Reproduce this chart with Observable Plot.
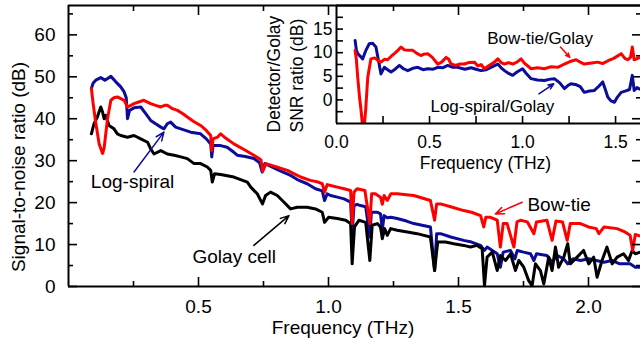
<!DOCTYPE html>
<html><head><meta charset="utf-8">
<script src="https://cdn.jsdelivr.net/npm/d3@7"></script>
<script src="https://cdn.jsdelivr.net/npm/@observablehq/plot@0.6"></script>
<style>
html,body{margin:0;padding:0;background:#fff;}
#chart{position:relative;width:640px;height:345px;overflow:hidden;background:#fff;}
#chart svg{position:absolute;top:0;}
</style></head><body><div id="chart"></div>
<script>
// ---- Main chart data (frequency in THz, SNR in dB) ----
const golayFreq = [0.088,0.098,0.111,0.124,0.131,0.137,0.143,0.156,0.175,0.188,0.201,0.227,0.252,0.278,0.304,0.316,0.329,0.355,0.38,0.406,0.432,0.457,0.483,0.508,0.534,0.547,0.553,0.562,0.585,0.636,0.688,0.701,0.726,0.746,0.758,0.777,0.803,0.829,0.854,0.88,0.918,0.95,0.976,0.985,1.0,1.034,1.066,1.085,1.091,1.1,1.117,1.143,1.159,1.168,1.188,1.2,1.207,1.216,1.226,1.239,1.264,1.303,1.341,1.367,1.392,1.408,1.42,1.45,1.482,1.52,1.546,1.572,1.591,1.6,1.61,1.63,1.649,1.661,1.681,1.7,1.719,1.732,1.751,1.77,1.783,1.796,1.815,1.828,1.847,1.86,1.873,1.885,1.905,1.92,1.93,1.956,1.981,2.001,2.02,2.033,2.052,2.071,2.091,2.11,2.135,2.154,2.168,2.18,2.2];
const golaySNR = [36.4,38.8,40.4,42.8,41.6,40,40.8,38.4,37.6,36.4,36,35.6,36,35.2,34.4,32.8,31.6,32.4,31.6,31.3,30.9,30.5,29.3,29.3,28.5,27.7,24.9,26.9,26.7,26.1,24.9,23.7,22.1,19.7,21.7,22.5,21.7,20.1,18.5,18.9,18.9,18.5,17.7,15.3,16.5,16.2,15.8,15,5.4,14.2,15.8,15.3,6.2,14.6,15,14.2,11.4,13.8,12.2,13.8,13.4,13,12.6,12.2,11.8,3.8,10.6,10.6,10.2,9.8,9.4,9.8,9,0.2,7,8.2,3.8,7.4,6.2,7.8,3.8,6.2,4.6,1.4,0.2,5.4,3.8,0.6,7,3.8,9.4,4.6,7,10.2,5.4,7,8.6,5.4,7,2.2,6.2,9.4,5.4,7,7.8,6.2,8.6,7.8,8.2];

const logFreq = [0.088,0.095,0.105,0.124,0.14,0.163,0.182,0.201,0.214,0.222,0.227,0.235,0.252,0.278,0.297,0.316,0.335,0.355,0.367,0.38,0.393,0.412,0.432,0.47,0.508,0.53,0.547,0.551,0.556,0.585,0.61,0.636,0.649,0.68,0.713,0.735,0.745,0.755,0.77,0.81,0.854,0.88,0.918,0.95,0.976,0.985,0.995,1.008,1.034,1.06,1.085,1.091,1.098,1.11,1.123,1.143,1.159,1.165,1.188,1.2,1.207,1.214,1.226,1.24,1.264,1.3,1.328,1.36,1.392,1.408,1.416,1.431,1.47,1.52,1.55,1.585,1.6,1.61,1.63,1.649,1.661,1.672,1.7,1.717,1.726,1.75,1.777,1.79,1.8,1.84,1.86,1.88,1.905,1.92,1.94,1.97,2.0,2.03,2.06,2.09,2.12,2.16,2.18,2.2];
const logSNR = [47.2,48.5,49.2,49.8,49.2,50.1,48.8,47.6,46.4,45,40,42,42.6,42.8,41.2,39.6,38.8,38,37.6,38.8,39.2,38,37.6,36.8,36.4,35.2,34,30.9,33.6,33.6,33.2,32,31.3,31,30.5,29.5,27.3,29.3,28.9,27.7,26.5,25.5,24.5,23.3,22.8,20.5,22.1,21.7,21.3,20.9,20.1,12.6,19.3,19.6,19.3,19,11.8,17.7,17.7,17.3,13.6,16.9,16.4,16.5,16.2,15.6,15,14.6,14.2,3.8,12.6,12.6,11.8,11,10.6,9.8,8.6,9.4,8.6,7.8,4.6,8.2,8.6,6.6,8.6,8.2,7.8,6.2,7.8,7.4,5.8,7.4,6.6,5.4,6.6,6.2,6.6,6.2,5.8,6.2,5.4,5.4,4.6,4.6];

const bowFreq = [0.088,0.095,0.105,0.118,0.131,0.137,0.15,0.163,0.175,0.188,0.201,0.214,0.227,0.24,0.252,0.27,0.29,0.316,0.335,0.355,0.37,0.38,0.4,0.419,0.44,0.457,0.48,0.508,0.53,0.547,0.551,0.556,0.573,0.585,0.6,0.636,0.68,0.713,0.74,0.747,0.76,0.8,0.842,0.893,0.93,0.96,0.976,0.985,0.995,1.008,1.034,1.06,1.085,1.091,1.098,1.11,1.14,1.159,1.166,1.18,1.2,1.207,1.214,1.226,1.24,1.264,1.3,1.328,1.36,1.392,1.408,1.416,1.431,1.47,1.52,1.55,1.585,1.597,1.605,1.623,1.649,1.661,1.672,1.687,1.713,1.725,1.738,1.765,1.79,1.8,1.84,1.86,1.875,1.9,1.918,1.93,1.969,2.0,2.03,2.04,2.06,2.11,2.14,2.16,2.17,2.18,2.2];
const bowSNR = [47.2,43.5,39,34,31.7,33,40,44.4,45,45.2,44.8,44.4,42.8,43.2,43.6,44,44.4,43.6,43.2,42.8,43.2,43.2,42.4,42,41.2,40.4,39.4,38.4,37.2,36,32.4,35.2,35.6,36.4,35.6,34,32.5,31.3,30.2,27.5,29.3,28.5,27.7,26.1,25.3,24.9,24.5,22.5,24.3,24.1,23.7,23.3,22.9,15,22.5,23.3,22.9,15,22.1,22.1,21.3,19.6,21.7,20.5,22.1,22.1,21.9,21.7,21.1,20.5,15.8,19.7,19.7,19,18.1,17.7,16.9,14.2,16.5,16.5,15.8,9.4,15,15,9.4,15.4,15.8,15.4,12.6,15.4,15.8,11,15.6,15.4,11,15,15,14.2,13.8,12.6,14.2,13.8,13,12.2,8.6,12.4,12];

// ---- Inset data (detector / Golay SNR ratio, dB) ----
const insetLogFreq = [0.1,0.107,0.114,0.141,0.158,0.176,0.194,0.212,0.225,0.239,0.257,0.275,0.293,0.315,0.338,0.36,0.383,0.41,0.437,0.465,0.49,0.52,0.544,0.57,0.598,0.625,0.652,0.69,0.724,0.75,0.777,0.805,0.83,0.867,0.885,0.903,0.925,0.947,0.97,1.0,1.02,1.046,1.08,1.117,1.15,1.171,1.2,1.225,1.245,1.26,1.29,1.31,1.332,1.36,1.386,1.41,1.431,1.445,1.458,1.475,1.494,1.51,1.53,1.555,1.575,1.59,1.6,1.615,1.63,1.66,1.7];
const insetLogRatio = [12.6,10.5,9.8,8.7,10.5,11.9,12,11.2,8.5,5.5,6.9,6.4,5.9,6.5,7.3,6.6,6.2,6.7,6.9,6.4,6.6,6.5,6.9,6.8,7.3,6.9,6.9,6.5,6.8,6.5,6.2,6.4,6.9,7.6,6.8,6.2,5.6,5.2,5.9,6.6,5.6,4.5,4.2,4.1,4.4,4.5,3.6,2.4,3.1,3.4,3.2,2.8,1.6,1.9,2,2.9,3.8,2.2,0.6,-0.2,-0.5,0.6,1.6,1.9,2.2,5.2,2,2.6,2.3,2,2.2];
const insetBowFreq = [0.1,0.107,0.114,0.124,0.132,0.14,0.148,0.157,0.168,0.185,0.205,0.225,0.239,0.257,0.275,0.293,0.311,0.33,0.347,0.365,0.383,0.41,0.43,0.454,0.47,0.49,0.515,0.544,0.565,0.589,0.603,0.616,0.64,0.665,0.687,0.71,0.741,0.76,0.777,0.795,0.82,0.849,0.867,0.885,0.903,0.925,0.947,0.97,0.992,1.01,1.046,1.08,1.117,1.15,1.189,1.225,1.26,1.288,1.31,1.332,1.37,1.404,1.43,1.46,1.49,1.53,1.55,1.565,1.58,1.59,1.6,1.63,1.66,1.7];
const insetBowRatio = [10.5,8.5,4.8,0.5,-2.2,-5.5,-6,-2,4.8,8.7,8.9,8.3,8,8.6,8.5,9.2,9.8,10.5,11.2,10.6,10.5,10.5,9.9,9.4,9.7,9.8,9,7.6,8,9,8.6,7.6,7.3,7.6,7.6,7.9,8,7.2,7.5,6.6,7.3,8,8.7,7.9,7.6,7.9,7.6,8,8.7,7.8,6.6,6.8,6.6,7,6.9,7.6,8.2,8.5,8,7.6,7.8,8,7.7,8.3,8.8,9.8,8.8,8.5,9,11.2,8.5,9,8.7,9.2];

// ---- Axis domains and ticks ----
const mainXDomain = [0, 2.2];
const mainYDomain = [0, 67];
const mainXMajor = [0.5, 1.0, 1.5, 2.0];
const mainXMinor = [0.25, 0.75, 1.25, 1.75];
const mainYMajor = [0, 10, 20, 30, 40, 50, 60];
const mainYMinor = [5, 15, 25, 35, 45, 55, 65];
const insetXDomain = [0, 1.72];
const insetYDomain = [-5, 20];
const insetXLabels = [0, 0.5, 1.0, 1.5];
const insetXTicks = [0.25, 0.5, 0.75, 1.0, 1.25, 1.5];
const insetYLabels = [0, 5, 10, 15];
const insetYTicks = [-2.5, 0, 2.5, 5, 7.5, 10, 12.5, 15, 17.5];

// ---- Titles and annotations (data coordinates) ----
const mainYTitle = [{v: 28.5, text: "Signal-to-noise ratio (dB)"}];
const insetYTitle = [
  {v: -6.9, text: "Detector/Golay", shift: -57},
  {v: -6.9, text: "SNR ratio (dB)", shift: -34}
];
const mainLabels = [
  {f: 0.086, v: 23.4, text: "Log-spiral"},
  {f: 0.477, v: 5.6, text: "Golay cell"},
  {f: 1.765, v: 17.9, text: "Bow-tie"}
];
const mainArrows = [
  {f1: 0.252, v1: 27.3, f2: 0.367, v2: 36.8, c: "log"},
  {f1: 0.713, v1: 9.8, f2: 0.848, v2: 16.9, c: "golay"},
  {f1: 1.745, v1: 20.1, f2: 1.642, v2: 17.3, c: "bow"}
];
const insetLabels = [
  {f: 0.81, v: 11.9, text: "Bow-tie/Golay"},
  {f: 0.505, v: -2.6, text: "Log-spiral/Golay"}
];
const insetArrows = [
  {f1: 1.204, v1: 11.2, f2: 1.254, v2: 9.0, c: "bow"},
  {f1: 1.088, v1: 1.3, f2: 1.168, v2: 3.4, c: "log"}
];

const FONT = "'Liberation Sans', Arial, Helvetica, sans-serif";
const COLORS = {bow: "#ff0000", log: "#0c0c9a", golay: "#000000"};
const rows = (fs, vs) => fs.map((f, i) => ({f, v: vs[i]}));
const noText = () => "";

const main = Plot.plot({
  width: 640, height: 345,
  marginLeft: 68, marginRight: 0, marginTop: 5, marginBottom: 59,
  x: {domain: mainXDomain},
  y: {domain: mainYDomain},
  style: {fontFamily: FONT, fontSize: "19px", background: "transparent", color: "#000"},
  marks: [
    Plot.line(rows(logFreq, logSNR), {x: "f", y: "v", stroke: COLORS.log, strokeWidth: 3}),
    Plot.line(rows(golayFreq, golaySNR), {x: "f", y: "v", stroke: COLORS.golay, strokeWidth: 3}),
    Plot.line(rows(bowFreq, bowSNR), {x: "f", y: "v", stroke: COLORS.bow, strokeWidth: 3}),
    Plot.ruleX([mainXDomain[0]], {strokeWidth: 2}),
    Plot.ruleY([mainYDomain[0]], {strokeWidth: 2}),
    Plot.ruleY([mainYDomain[1]], {strokeWidth: 2}),
    Plot.axisX(mainXMajor, {anchor: "bottom", tickSize: 0, tickPadding: 13, tickFormat: d3.format(".1f"), label: null}),
    Plot.axisX(mainXMajor, {anchor: "bottom", tickSize: -9, tickFormat: noText, label: null, strokeWidth: 1.6}),
    Plot.axisX(mainXMinor, {anchor: "bottom", tickSize: -5, tickFormat: noText, label: null, strokeWidth: 1.6}),
    Plot.axisX(mainXMajor, {anchor: "top", tickSize: -9, tickFormat: noText, label: null, strokeWidth: 1.6}),
    Plot.axisX(mainXMinor, {anchor: "top", tickSize: -5, tickFormat: noText, label: null, strokeWidth: 1.6}),
    Plot.axisY(mainYMajor, {anchor: "left", tickSize: 0, tickPadding: 13, label: null}),
    Plot.axisY(mainYMajor, {anchor: "left", tickSize: -9, tickFormat: noText, label: null, strokeWidth: 1.6}),
    Plot.axisY(mainYMinor, {anchor: "left", tickSize: -5, tickFormat: noText, label: null, strokeWidth: 1.6}),
    Plot.axisY(mainYMajor, {anchor: "right", tickSize: -9, tickFormat: noText, label: null, strokeWidth: 1.6}),
    Plot.axisY(mainYMinor, {anchor: "right", tickSize: -5, tickFormat: noText, label: null, strokeWidth: 1.6}),
    Plot.text(["Frequency (THz)"], {frameAnchor: "bottom", lineAnchor: "bottom", dx: -11.5, dy: 47, fontSize: 19}),
    Plot.text(mainYTitle, {y: "v", text: "text", frameAnchor: "left", rotate: -90, lineAnchor: "bottom", textAnchor: "middle", dx: -44, fontSize: 19}),
    Plot.arrow(mainArrows, {x1: "f1", y1: "v1", x2: "f2", y2: "v2", stroke: d => COLORS[d.c], strokeWidth: 1.5, headLength: 9, headAngle: 45}),
    Plot.text(mainLabels, {x: "f", y: "v", text: "text", textAnchor: "start", lineAnchor: "bottom", fontSize: 19, fill: "#000"})
  ]
});

const inset = Plot.plot({
  width: 400, height: 175,
  marginLeft: 80, marginRight: 0, marginTop: 5, marginBottom: 52,
  x: {domain: insetXDomain},
  y: {domain: insetYDomain},
  style: {fontFamily: FONT, fontSize: "17.5px", background: "transparent", color: "#000"},
  marks: [
    Plot.line(rows(insetLogFreq, insetLogRatio), {x: "f", y: "v", stroke: COLORS.log, strokeWidth: 3, clip: true}),
    Plot.line(rows(insetBowFreq, insetBowRatio), {x: "f", y: "v", stroke: COLORS.bow, strokeWidth: 3, clip: true}),
    Plot.ruleX([insetXDomain[0]], {strokeWidth: 2}),
    Plot.ruleY([insetYDomain[0]], {strokeWidth: 2}),
    Plot.ruleY([insetYDomain[1]], {strokeWidth: 2}),
    Plot.axisX(insetXLabels, {anchor: "bottom", tickSize: 0, tickPadding: 12.5, tickFormat: d3.format(".1f"), label: null}),
    Plot.axisX(insetXTicks, {anchor: "bottom", tickSize: -7, tickFormat: noText, label: null, strokeWidth: 1.6}),
    Plot.axisY(insetYLabels, {anchor: "left", tickSize: 0, tickPadding: 4, label: null}),
    Plot.axisY(insetYTicks, {anchor: "left", tickSize: -7, tickFormat: noText, label: null, strokeWidth: 1.6}),
    Plot.text(["Frequency (THz)"], {frameAnchor: "bottom", lineAnchor: "bottom", dx: -11, dy: 45, fontSize: 17.5}),
    Plot.text(insetYTitle.slice(0, 1), {y: "v", text: "text", frameAnchor: "left", rotate: -90, lineAnchor: "bottom", textAnchor: "start", dx: insetYTitle[0].shift, fontSize: 17.5}),
    Plot.text(insetYTitle.slice(1), {y: "v", text: "text", frameAnchor: "left", rotate: -90, lineAnchor: "bottom", textAnchor: "start", dx: insetYTitle[1].shift, fontSize: 17.5}),
    Plot.arrow(insetArrows, {x1: "f1", y1: "v1", x2: "f2", y2: "v2", stroke: d => COLORS[d.c], strokeWidth: 1.5, headLength: 7, headAngle: 45}),
    Plot.text(insetLabels, {x: "f", y: "v", text: "text", textAnchor: "start", lineAnchor: "bottom", fontSize: 17, fill: "#000"})
  ]
});

const chart = document.getElementById("chart");
main.style.left = "0px";
inset.style.left = "256px";
chart.appendChild(main);
chart.appendChild(inset);
</script>
</body></html>
